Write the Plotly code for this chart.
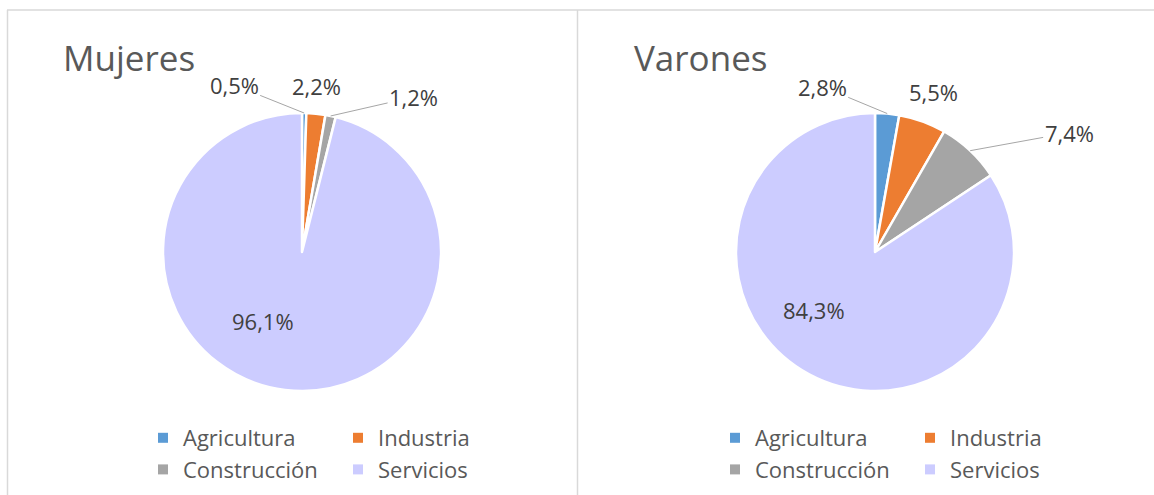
import math
import plotly.graph_objects as go

# ---- data ----
categories = ["Agricultura", "Industria", "Construcción", "Servicios"]
mujeres = [0.5, 2.2, 1.2, 96.1]
varones = [2.8, 5.5, 7.4, 84.3]
panel_titles = ["Mujeres", "Varones"]
colors = ["#5B9BD5", "#ED7D31", "#A5A5A5", "#CCCCFF"]

# ---- layout / style constants ----
W, H = 1154, 495
FONT = "Open Sans, Noto Sans, sans-serif"
LABEL_COLOR = "#404040"
TITLE_COLOR = "#595959"
LINE_COLOR = "#A6A6A6"
BORDER_COLOR = "#D9D9D9"

panels = [
    dict(title=panel_titles[0], values=mujeres, cx=302, cy=252, r=139,
         title_x=61, legend_x=143, legend_name="legend",
         # label placement style: (mode, dx, dy) in screen pixels (dy>0 = down)
         label_style=[("arrow", -70, -28), ("plain", 1, -28),
                      ("arrow", 83, -19), ("inside", -31, 0)]),
    dict(title=panel_titles[1], values=varones, cx=875, cy=252, r=139,
         title_x=632, legend_x=715, legend_name="legend2",
         label_style=[("arrow", -65, -27), ("plain", 11, -29),
                      ("arrow", 99, -18), ("inside", -28, -3)]),
]


def px_to_paper(x, y):
    return x / W, 1 - y / H


def fmt(v):
    return f"{v:.1f}%".replace(".", ",")


fig = go.Figure()
annotations = []

for p in panels:
    cx, cy, r = p["cx"], p["cy"], p["r"]
    x0, y0 = px_to_paper(cx - r, cy + r)
    x1, y1 = px_to_paper(cx + r, cy - r)
    fig.add_trace(go.Pie(
        labels=categories, values=p["values"], sort=False,
        direction="clockwise", rotation=0,
        marker=dict(colors=colors, line=dict(color="white", width=2.5)),
        textinfo="none", showlegend=False, hoverinfo="label+percent",
        domain=dict(x=[x0, x1], y=[y0, y1]),
    ))

    # legend entries (2 columns via groups)
    for i, cat in enumerate(categories):
        fig.add_trace(go.Scatter(
            x=[None], y=[None], mode="markers", name=cat,
            marker=dict(symbol="square", size=10, color=colors[i]),
            legend=p["legend_name"], legendgroup=f"{p['title']}-{i % 2}",
            showlegend=True, hoverinfo="skip",
        ))

    # labels computed from slice angles
    total = sum(p["values"])
    cum = 0.0
    for v, (mode, dx, dy) in zip(p["values"], p["label_style"]):
        mid = (cum + v / 2) / total
        cum += v
        theta = 2 * math.pi * mid
        rr = r if mode != "inside" else 0.5 * r
        ax_px = cx + rr * math.sin(theta)
        ay_px = cy - rr * math.cos(theta)
        xa, ya = px_to_paper(ax_px, ay_px)
        if mode == "arrow":
            annotations.append(dict(
                x=xa, y=ya, xref="paper", yref="paper", text=fmt(v),
                showarrow=True, arrowhead=0, arrowwidth=1, arrowcolor=LINE_COLOR,
                ax=dx, ay=dy, standoff=0, startstandoff=0,
                font=dict(family=FONT, size=22, color=LABEL_COLOR),
            ))
        else:
            annotations.append(dict(
                x=xa, y=ya, xref="paper", yref="paper", text=fmt(v),
                showarrow=False, xshift=dx, yshift=-dy,
                xanchor="center", yanchor="middle",
                font=dict(family=FONT, size=22, color=LABEL_COLOR),
            ))

    tx, ty = px_to_paper(p["title_x"], 58)
    annotations.append(dict(
        x=tx, y=ty, xref="paper", yref="paper", text=p["title"],
        showarrow=False, xanchor="left", yanchor="middle",
        font=dict(family=FONT, size=35, color=TITLE_COLOR),
    ))

legend_common = dict(
    orientation="h", traceorder="grouped", xanchor="left", yanchor="top",
    font=dict(family=FONT, size=22, color=TITLE_COLOR),
    bgcolor="rgba(0,0,0,0)", tracegroupgap=0, itemclick=False,
    itemdoubleclick=False, entrywidth=150,
)
ly = 1 - 417 / H

shapes = [
    dict(type="line", xref="paper", yref="paper", x0=7 / W, x1=1,
         y0=1 - 10 / H, y1=1 - 10 / H, line=dict(color=BORDER_COLOR, width=1.5)),
    dict(type="line", xref="paper", yref="paper", x0=7.5 / W, x1=7.5 / W,
         y0=0, y1=1 - 10 / H, line=dict(color=BORDER_COLOR, width=1.5)),
    dict(type="line", xref="paper", yref="paper", x0=577.5 / W, x1=577.5 / W,
         y0=0, y1=1 - 10 / H, line=dict(color=BORDER_COLOR, width=1.5)),
]

fig.update_layout(
    width=W, height=H, margin=dict(l=0, r=0, t=0, b=0),
    paper_bgcolor="white", plot_bgcolor="white",
    xaxis=dict(visible=False, fixedrange=True),
    yaxis=dict(visible=False, fixedrange=True),
    legend=dict(x=panels[0]["legend_x"] / W, y=ly, **legend_common),
    legend2=dict(x=panels[1]["legend_x"] / W, y=ly, **legend_common),
    annotations=annotations, shapes=shapes, hovermode=False,
)

fig.write_html("out.html", config={"displayModeBar": False},
               post_script="document.body.style.margin='0';")
